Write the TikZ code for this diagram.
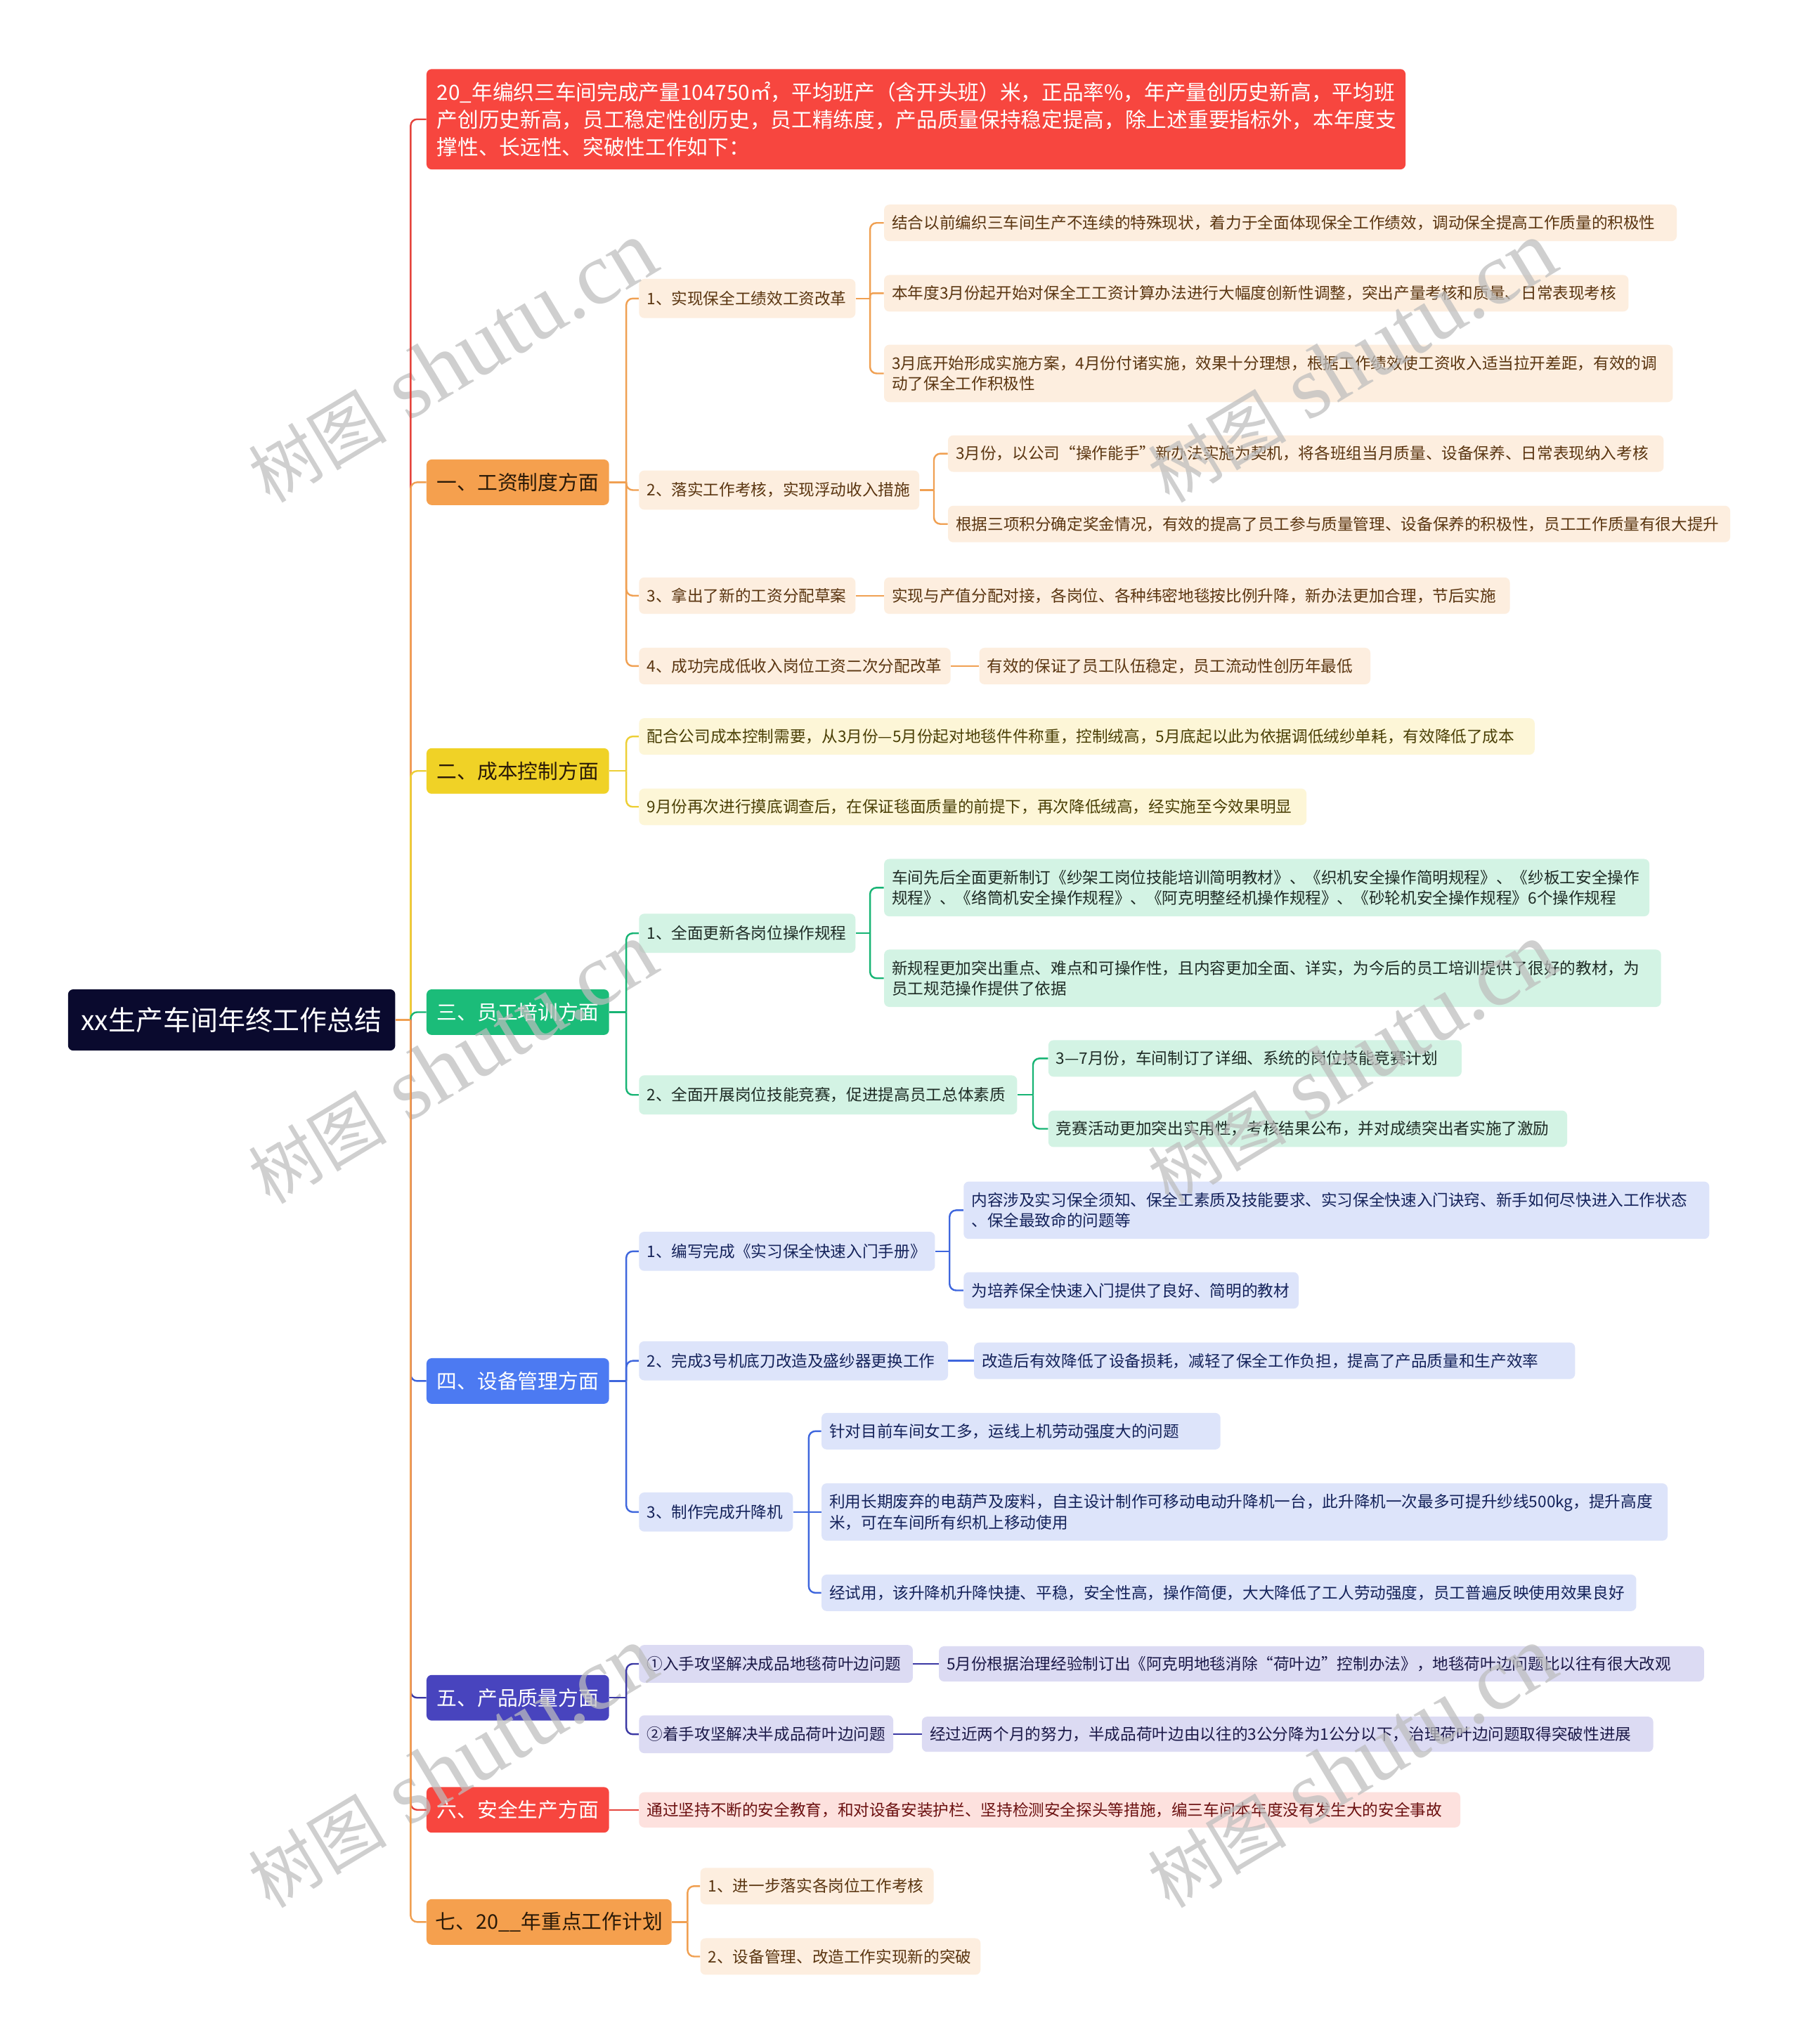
\documentclass[tikz,border=0pt]{standalone}
\usepackage{fontspec}
\setmainfont{Noto Sans CJK SC}
\newfontfamily\wmlatin{Liberation Serif}
\usetikzlibrary{calc}
\newcommand\fsz[2]{\fontsize{#1pt}{#2pt}\selectfont}
\definecolor{cRoot}{HTML}{0A0A2E}
\definecolor{cRed}{HTML}{F7463F}
\definecolor{cOr}{HTML}{F5A04E}
\definecolor{cYe}{HTML}{F0D226}
\definecolor{cGr}{HTML}{1BBC79}
\definecolor{cBl}{HTML}{4C7AF2}
\definecolor{cIn}{HTML}{4844BE}
\definecolor{lRed}{HTML}{E5443D}
\definecolor{lOr}{HTML}{F0A052}
\definecolor{lYe}{HTML}{EDCF35}
\definecolor{lGr}{HTML}{17B474}
\definecolor{lBl}{HTML}{3E66DD}
\definecolor{lIn}{HTML}{3B38A4}
\definecolor{fOr}{HTML}{FDEEDF}
\definecolor{fYe}{HTML}{FDF6D7}
\definecolor{fGr}{HTML}{D3F3E4}
\definecolor{fBl}{HTML}{DDE4FA}
\definecolor{fIn}{HTML}{DCDBF3}
\definecolor{fRed}{HTML}{FDE1DE}
\definecolor{tOr}{HTML}{5A3510}
\definecolor{tYe}{HTML}{4A3F05}
\definecolor{tGr}{HTML}{1E2B25}
\definecolor{tBl}{HTML}{14225A}
\definecolor{tIn}{HTML}{1B1948}
\definecolor{tRed}{HTML}{6B1010}
\definecolor{tCat}{HTML}{2A1A08}
\definecolor{cWm}{HTML}{BDBDBD}
\begin{document}
\begin{tikzpicture}[x=1pt,y=-1pt,
 nbox/.style={rounded corners=4pt, inner xsep=6pt, inner ysep=0pt, anchor=west, align=left},
 leaf/.style={nbox, font=\fsz{12.2}{16}, minimum height=28pt},
 tall/.style={leaf, minimum height=44pt},
 lvtwo/.style={leaf, minimum height=30pt},
 cat/.style={nbox, font=\fsz{15.5}{20}, minimum height=35pt, align=center},
 gO/.style={fill=fOr, text=tOr},
 gY/.style={fill=fYe, text=tYe},
 gG/.style={fill=fGr, text=tGr},
 gB/.style={fill=fBl, text=tBl},
 gI/.style={fill=fIn, text=tIn},
 gR/.style={fill=fRed, text=tRed},
 conn/.style={line width=1.3pt, rounded corners=5pt},
 wm/.style={text=cWm, text opacity=0.72, rotate=31, inner sep=0pt}
]
\useasboundingbox (0,0) rectangle (1380,1568.15);
\fill[white] (0,0) rectangle (1380,1568.15);

% root and header
\node[nbox, fill=cRoot, text=white, font=\fsz{21}{26}, minimum height=47pt, text width=239pt, align=center] (root) at (52,782.5) {xx生产车间年终工作总结};
\node[nbox, fill=cRed, text=white, font=\fsz{16}{21}, inner xsep=8pt, text width=735pt, minimum height=77pt] (hdr) at (327,91.5) {20\_年编织三车间完成产量104750㎡，平均班产（含开头班）米，正品率\%，年产量创历史新高，平均班\\产创历史新高，员工稳定性创历史，员工精练度，产品质量保持稳定提高，除上述重要指标外，本年度支\\撑性、长远性、突破性工作如下：};

% categories
\node[cat, fill=cOr, text=tCat, text width=128pt] (c1) at (327,370) {一、工资制度方面};
\node[cat, fill=cYe, text=tCat, text width=128pt] (c2) at (327,591.5) {二、成本控制方面};
\node[cat, fill=cGr, text=white, text width=128pt] (c3) at (327,776.5) {三、员工培训方面};
\node[cat, fill=cBl, text=white, text width=128pt] (c4) at (327,1059.5) {四、设备管理方面};
\node[cat, fill=cIn, text=white, text width=128pt] (c5) at (327,1302.5) {五、产品质量方面};
\node[cat, fill=cRed, text=white, text width=128pt] (c6) at (327,1388.5) {六、安全生产方面};
\node[cat, fill=cOr, text=tCat, text width=176pt] (c7) at (327,1474.5) {七、20\_\_年重点工作计划};

% branch one
\node[lvtwo, gO, text width=154pt] (b11) at (490,229) {1、实现保全工绩效工资改革};
\node[leaf, gO, text width=596pt] (l111) at (678,171) {结合以前编织三车间生产不连续的特殊现状，着力于全面体现保全工作绩效，调动保全提高工作质量的积极性};
\node[leaf, gO, text width=559pt] (l112) at (678,225) {本年度3月份起开始对保全工工资计算办法进行大幅度创新性调整，突出产量考核和质量、日常表现考核};
\node[tall, gO, text width=593pt] (l113) at (678,286.5) {3月底开始形成实施方案，4月份付诸实施，效果十分理想，根据工作绩效使工资收入适当拉开差距，有效的调\\动了保全工作积极性};
\node[lvtwo, gO, text width=203pt] (b12) at (490,376) {2、落实工作考核，实现浮动收入措施};
\node[leaf, gO, text width=537pt] (l121) at (727,348) {3月份，以公司“操作能手”新办法实施为契机，将各班组当月质量、设备保养、日常表现纳入考核};
\node[leaf, gO, text width=588pt] (l122) at (727,402) {根据三项积分确定奖金情况，有效的提高了员工参与质量管理、设备保养的积极性，员工工作质量有很大提升};
\node[leaf, gO, text width=154pt] (b13) at (490,457) {3、拿出了新的工资分配草案};
\node[leaf, gO, text width=468pt] (l131) at (678,457) {实现与产值分配对接，各岗位、各种纬密地毯按比例升降，新办法更加合理，节后实施};
\node[leaf, gO, text width=227pt] (b14) at (490,511) {4、成功完成低收入岗位工资二次分配改革};
\node[leaf, gO, text width=288pt] (l141) at (751,511) {有效的保证了员工队伍稳定，员工流动性创历年最低};

% branch two
\node[leaf, gY, text width=675pt] (l21) at (490,565) {配合公司成本控制需要，从3月份—5月份起对地毯件件称重，控制绒高，5月底起以此为依据调低绒纱单耗，有效降低了成本};
\node[leaf, gY, text width=500pt] (l22) at (490,619) {9月份再次进行摸底调查后，在保证毯面质量的前提下，再次降低绒高，经实施至今效果明显};

% branch three
\node[lvtwo, gG, text width=154pt] (b31) at (490,716) {1、全面更新各岗位操作规程};
\node[tall, gG, text width=575pt] (l311) at (678,681) {车间先后全面更新制订《纱架工岗位技能培训简明教材》、《织机安全操作简明规程》、《纱板工安全操作\\规程》、《络筒机安全操作规程》、《阿克明整经机操作规程》、《砂轮机安全操作规程》6个操作规程};
\node[tall, gG, text width=584pt] (l312) at (678,750.5) {新规程更加突出重点、难点和可操作性，且内容更加全面、详实，为今后的员工培训提供了很好的教材，为\\员工规范操作提供了依据};
\node[lvtwo, gG, text width=278pt] (b32) at (490,840) {2、全面开展岗位技能竞赛，促进提高员工总体素质};
\node[leaf, gG, text width=305pt] (l321) at (804,812) {3—7月份，车间制订了详细、系统的岗位技能竞赛计划};
\node[leaf, gG, text width=386pt] (l322) at (804,866) {竞赛活动更加突出实用性，考核结果公布，并对成绩突出者实施了激励};

% branch four
\node[lvtwo, gB, text width=215pt] (b41) at (490,960) {1、编写完成《实习保全快速入门手册》};
\node[tall, gB, text width=560pt] (l411) at (739,928.5) {内容涉及实习保全须知、保全工素质及技能要求、实习保全快速入门诀窍、新手如何尽快进入工作状态\\、保全最致命的问题等};
\node[leaf, gB, text width=245pt] (l412) at (739,990) {为培养保全快速入门提供了良好、简明的教材};
\node[lvtwo, gB, text width=225pt] (b42) at (490,1044) {2、完成3号机底刀改造及盛纱器更换工作};
\node[leaf, gB, text width=449pt] (l421) at (747,1044) {改造后有效降低了设备损耗，减轻了保全工作负担，提高了产品质量和生产效率};
\node[lvtwo, gB, text width=106pt] (b43) at (490,1160) {3、制作完成升降机};
\node[leaf, gB, text width=294pt] (l431) at (630,1098) {针对目前车间女工多，运线上机劳动强度大的问题};
\node[tall, gB, text width=637pt] (l432) at (630,1160) {利用长期废弃的电葫芦及废料，自主设计制作可移动电动升降机一台，此升降机一次最多可提升纱线500kg，提升高度\\米，可在车间所有织机上移动使用};
\node[leaf, gB, text width=613pt] (l433) at (630,1222) {经试用，该升降机升降快捷、平稳，安全性高，操作简便，大大降低了工人劳动强度，员工普遍反映使用效果良好};

% branch five
\node[leaf, gI, minimum height=29pt, text width=198pt] (b51) at (490,1276.5) {①入手攻坚解决成品地毯荷叶边问题};
\node[leaf, gI, minimum height=27pt, text width=575pt] (l511) at (720,1276.5) {5月份根据治理经验制订出《阿克明地毯消除“荷叶边”控制办法》，地毯荷叶边问题比以往有很大改观};
\node[leaf, gI, minimum height=29pt, text width=183pt] (b52) at (490,1330.5) {②着手攻坚解决半成品荷叶边问题};
\node[leaf, gI, minimum height=27pt, text width=549pt] (l521) at (707,1330.5) {经过近两个月的努力，半成品荷叶边由以往的3公分降为1公分以下，治理荷叶边问题取得突破性进展};

% branch six
\node[leaf, gR, minimum height=27pt, text width=618pt] (l61) at (490,1388.5) {通过坚持不断的安全教育，和对设备安装护栏、坚持检测安全探头等措施，编三车间本年度没有发生大的安全事故};

% branch seven
\node[leaf, gO, text width=167pt] (l71) at (537,1447) {1、进一步落实各岗位工作考核};
\node[leaf, gO, text width=203pt] (l72) at (537,1501) {2、设备管理、改造工作实现新的突破};

% watermarks (under the connectors)
\node[wm] (wm1) at (347,278) {{\fsz{53}{58}树图}\hspace{17pt}{\wmlatin\fsz{68}{72}shutu.cn}};
\node[wm] (wm2) at (1037,278) {{\fsz{53}{58}树图}\hspace{17pt}{\wmlatin\fsz{68}{72}shutu.cn}};
\node[wm] (wm3) at (347,816) {{\fsz{53}{58}树图}\hspace{17pt}{\wmlatin\fsz{68}{72}shutu.cn}};
\node[wm] (wm4) at (1037,816) {{\fsz{53}{58}树图}\hspace{17pt}{\wmlatin\fsz{68}{72}shutu.cn}};
\node[wm] (wm5) at (347,1356) {{\fsz{53}{58}树图}\hspace{17pt}{\wmlatin\fsz{68}{72}shutu.cn}};
\node[wm] (wm6) at (1037,1356) {{\fsz{53}{58}树图}\hspace{17pt}{\wmlatin\fsz{68}{72}shutu.cn}};

% trunk
\coordinate (rj) at (315,782.5);
\draw[conn, lRed] (rj) |- (hdr.west);
\draw[conn, lOr] (rj) |- (c1.west);
\draw[conn, lYe] (rj) |- (c2.west);
\draw[conn, lGr] (rj) |- (c3.west);
\draw[conn, lBl] (rj) |- (c4.west);
\draw[conn, lIn] (rj) |- (c5.west);
\draw[conn, lRed] (rj) |- (c6.west);
\draw[conn, lOr] (rj) |- (c7.west);
\draw[conn, lOr] (root.east) -- (rj);

% one
\coordinate (j1) at ($(c1.east)+(13,0)$);
\draw[conn, lOr] (c1.east) -- (j1);
\draw[conn, lOr] (j1) |- (b11.west);
\draw[conn, lOr] (j1) |- (b12.west);
\draw[conn, lOr] (j1) |- (b13.west);
\draw[conn, lOr] (j1) |- (b14.west);
\coordinate (j11) at ($(b11.east)+(11,0)$);
\draw[conn, lOr] (b11.east) -- (j11);
\draw[conn, lOr] (j11) |- (l111.west);
\draw[conn, lOr, rounded corners=2pt] (j11) |- (l112.west);
\draw[conn, lOr] (j11) |- (l113.west);
\coordinate (j12) at ($(b12.east)+(11,0)$);
\draw[conn, lOr] (b12.east) -- (j12);
\draw[conn, lOr] (j12) |- (l121.west);
\draw[conn, lOr] (j12) |- (l122.west);
\draw[conn, lOr] (b13.east) -- (l131.west);
\draw[conn, lOr] (b14.east) -- (l141.west);

% two
\coordinate (j2) at ($(c2.east)+(13,0)$);
\draw[conn, lYe] (c2.east) -- (j2);
\draw[conn, lYe] (j2) |- (l21.west);
\draw[conn, lYe] (j2) |- (l22.west);

% three
\coordinate (j3) at ($(c3.east)+(13,0)$);
\draw[conn, lGr] (c3.east) -- (j3);
\draw[conn, lGr] (j3) |- (b31.west);
\draw[conn, lGr] (j3) |- (b32.west);
\coordinate (j31) at ($(b31.east)+(11,0)$);
\draw[conn, lGr] (b31.east) -- (j31);
\draw[conn, lGr] (j31) |- (l311.west);
\draw[conn, lGr] (j31) |- (l312.west);
\coordinate (j32) at ($(b32.east)+(12,0)$);
\draw[conn, lGr] (b32.east) -- (j32);
\draw[conn, lGr] (j32) |- (l321.west);
\draw[conn, lGr] (j32) |- (l322.west);

% four
\coordinate (j4) at ($(c4.east)+(13,0)$);
\draw[conn, lBl] (c4.east) -- (j4);
\draw[conn, lBl] (j4) |- (b41.west);
\draw[conn, lBl] (j4) |- (b42.west);
\draw[conn, lBl] (j4) |- (b43.west);
\coordinate (j41) at ($(b41.east)+(11,0)$);
\draw[conn, lBl] (b41.east) -- (j41);
\draw[conn, lBl] (j41) |- (l411.west);
\draw[conn, lBl] (j41) |- (l412.west);
\draw[conn, lBl] (b42.east) -- (l421.west);
\coordinate (j43) at ($(b43.east)+(12,0)$);
\draw[conn, lBl] (b43.east) -- (j43);
\draw[conn, lBl] (j43) |- (l431.west);
\draw[conn, lBl] (j43) -- (l432.west);
\draw[conn, lBl] (j43) |- (l433.west);

% five
\coordinate (j5) at ($(c5.east)+(13,0)$);
\draw[conn, lIn] (c5.east) -- (j5);
\draw[conn, lIn] (j5) |- (b51.west);
\draw[conn, lIn] (j5) |- (b52.west);
\draw[conn, lIn] (b51.east) -- (l511.west);
\draw[conn, lIn] (b52.east) -- (l521.west);

% six
\draw[conn, lRed] (c6.east) -- (l61.west);

% seven
\coordinate (j7) at ($(c7.east)+(12,0)$);
\draw[conn, lOr] (c7.east) -- (j7);
\draw[conn, lOr] (j7) |- (l71.west);
\draw[conn, lOr] (j7) |- (l72.west);
\end{tikzpicture}
\end{document}
